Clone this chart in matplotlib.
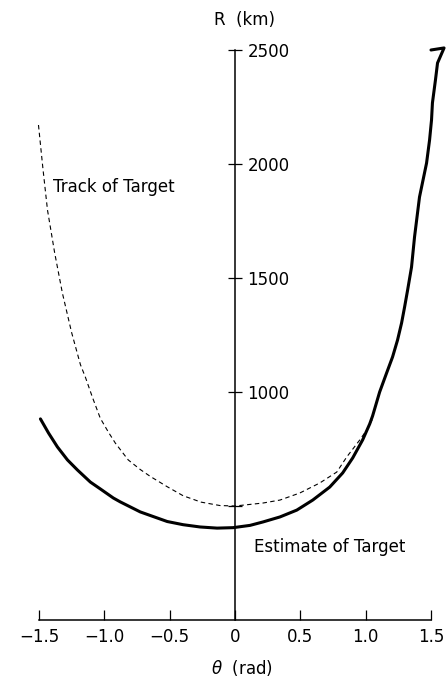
import matplotlib
matplotlib.use("Agg")
import matplotlib.pyplot as plt

plt.rcParams['font.family'] = ['DejaVu Sans']
plt.rcParams['mathtext.fontset'] = 'dejavusans'

# true track of the target (dashed)
theta_track = [-1.504, -1.47, -1.435, -1.38, -1.321, -1.25, -1.183, -1.145, -1.09,
               -1.031, -0.97, -0.916, -0.817, -0.725, -0.649, -0.52, -0.397,
               -0.26, -0.115, 0.0, 0.214, 0.344, 0.496, 0.649, 0.779, 0.855,
               0.954, 1.008, 1.06]
r_track = [2171, 1980, 1798, 1610, 1434, 1260, 1120, 1065, 975,
           885, 825, 776, 702, 660, 630, 585, 545,
           517, 502, 500, 513, 526, 557, 601, 649, 715,
           789, 833, 890]

# filter estimate (solid)
theta_est = [-1.489, -1.427, -1.359, -1.282, -1.206, -1.107, -1.031, -0.931,
             -0.878, -0.725, -0.519, -0.397, -0.267, -0.137, -0.015, 0.115,
             0.214, 0.344, 0.473, 0.595, 0.725, 0.824, 0.901, 0.977, 1.031,
             1.053, 1.107, 1.160, 1.206, 1.244, 1.275, 1.298, 1.321, 1.351,
             1.374, 1.412, 1.466, 1.489, 1.504, 1.511, 1.534, 1.55, 1.60, 1.50]
r_est = [882, 820, 759, 702, 658, 605, 575, 535,
         518, 474, 432, 418, 408, 403, 405, 415,
         430, 452, 482, 526, 583, 645, 711, 790, 860,
         895, 1000, 1083, 1154, 1228, 1303, 1373, 1447, 1548,
         1680, 1855, 2004, 2105, 2193, 2268, 2368, 2443, 2509, 2500]

x_ticks = [-1.5, -1.0, -0.5, 0, 0.5, 1.0, 1.5]
x_labels = ['\u22121.5', '\u22121.0', '\u22120.5', '0', '0.5', '1.0', '1.5']
y_ticks = [500, 1000, 1500, 2000, 2500]
y_labels = ['', '1000', '1500', '2000', '2500']

fig = plt.figure(figsize=(4.47, 6.84), dpi=100)
ax = fig.add_axes([39 / 447, 64 / 684, 392 / 447, 570 / 684])
ax.set_xlim(-1.5, 1.5)
ax.set_ylim(0, 2500)

ax.plot(theta_track, r_track, color='black', lw=0.8, ls=(0, (4, 3)), clip_on=False)
ax.plot(theta_est, r_est, color='black', lw=2.2, clip_on=False,
        solid_joinstyle='round', solid_capstyle='round')

# axes: bottom line and vertical line through theta = 0
for s in ['top', 'left']:
    ax.spines[s].set_visible(False)
ax.spines['right'].set_position(('data', 0))
ax.spines['right'].set_bounds(0, 2500)
ax.spines['right'].set_linewidth(1.1)
ax.spines['bottom'].set_linewidth(1.1)
ax.yaxis.tick_right()

ax.set_xticks(x_ticks)
ax.set_xticklabels(x_labels)
ax.set_yticks(y_ticks)
ax.set_yticklabels(y_labels)
ax.tick_params(axis='x', direction='in', length=7.5, width=0.9, pad=6, labelsize=12)
ax.tick_params(axis='y', direction='inout', length=10, width=0.9, pad=4, labelsize=12)

fig.text(245 / 447, 1 - 20 / 684, 'R  (km)', ha='center', va='center', fontsize=12)
fig.text(242 / 447, 1 - 668 / 684, r'$\theta$  (rad)', ha='center', va='center', fontsize=12)
fig.text(53 / 447, 1 - 187 / 684, 'Track of Target', ha='left', va='center', fontsize=12)
fig.text(254 / 447, 1 - 547 / 684, 'Estimate of Target', ha='left', va='center', fontsize=12)

fig.savefig('out.png', dpi=100)
